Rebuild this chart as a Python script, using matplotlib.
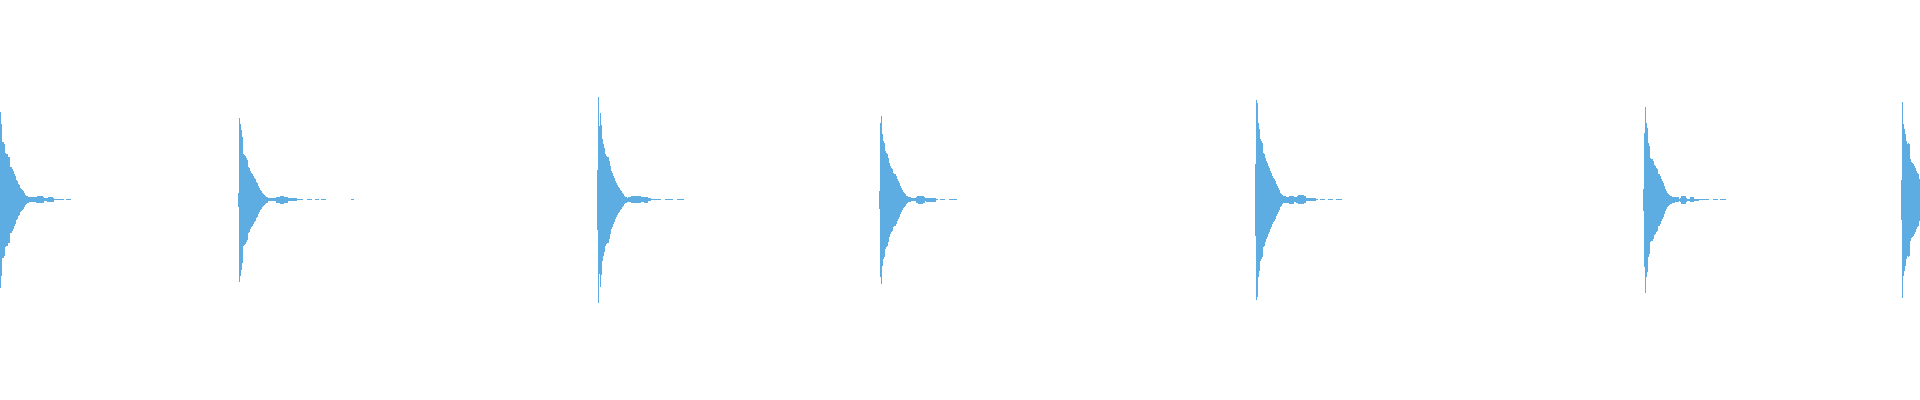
import numpy as np
import matplotlib
matplotlib.use("Agg")
import matplotlib.pyplot as plt

# Onset frame of each decaying burst (1 frame per horizontal step)
burst_onsets = [0, 238, 597, 879, 1255, 1643, 1901]

# Envelope amplitude (half peak-to-peak) per frame
env_1 = [88, 76, 58, 58, 56, 47, 46, 46, 43, 43, 33, 33, 31, 29, 26, 24, 20, 19, 16, 15,
         12, 11, 10, 9, 7, 5, 4, 3.5, 3, 2.5, 2.5, 2.5, 2.5, 2.5, 2.5, 2.5,
         3, 3.5, 3.5, 3.5, 3.5, 3.5, 3.5, 3, 1.5, 1.5, 1.5, 2, 2.5, 2.5, 2.5, 2.5, 2.5, 2,
         0.5, 0.5, 0.5, 0.5, 0.5, 0.5, 0.5, 0.5, 0.5, 0.5, 0, 0, 0.5, 0.5, 0.5, 0.5, 0.5]
env_2 = [7, 82, 76, 70, 63, 46, 45, 44, 42, 40, 33, 32, 29, 27, 26, 24, 22, 21, 18, 17,
         14, 12, 10, 9, 7, 6, 5, 4, 3, 3, 1.7, 1.7, 1.7, 1.7, 1.7, 1.7, 1.7, 1.7,
         3, 3, 3, 3, 4, 4, 4, 4, 3, 3, 3, 3, 1.5, 1.5, 1.5, 1.5, 1.5, 1.5, 1.5, 1.5, 1.5,
         0.5, 0.5, 0.5, 0.5, 0.5, 0.5, 0, 0, 0, 0, 0.5, 0.5, 0.5, 0.5, 0.5, 0, 0, 0,
         0.5, 0.5, 0.5, 0.5, 0, 0, 0.5, 0.5, 0.5, 0.5, 0.5,
         0, 0, 0, 0, 0, 0, 0, 0, 0, 0, 0, 0, 0, 0, 0, 0, 0, 0, 0, 0, 0, 0, 0, 0, 0,
         0.5, 0.5, 0.5]
env_3 = [30, 103, 74, 87, 75, 61, 56, 52, 46, 44, 43, 43, 39, 34, 29, 27, 24, 22, 19, 17,
         15, 13, 12, 10, 9, 7, 6, 4, 3, 3, 2, 2.3, 2.3, 2.3,
         3.5, 3.5, 3.5, 3.5, 3.5, 3.5, 3.5, 3.5, 3.5, 3.5, 2.5, 2.5, 2.5, 3, 3, 3, 3,
         1.7, 1.7, 1.7, 0.5, 0.5, 0.5, 0.5, 0.5, 0.5, 0.5, 0.5, 0.5, 0.5, 0, 0, 0, 0,
         0.5, 0.5, 0.5, 0.5, 0.5, 0.5, 0.5, 0.5, 0, 0, 0, 0, 0.5, 0.5, 0.5, 0.5, 0.5, 0.5, 0.5]
env_4 = [9, 77, 84, 66, 59, 57, 49, 47, 46, 42, 37, 34, 32, 31, 27, 26, 26, 24, 21, 19,
         17, 14, 12, 10, 8, 7, 6, 4, 3.3, 2.3, 2.3, 2.3, 1.7, 1.7, 1.7, 1.7, 1.7,
         3, 3.5, 4, 4, 4, 4, 4, 3.5, 3, 1.3, 2, 2, 2, 2, 2, 2, 2, 2, 2, 2,
         0.5, 0.5, 0, 0, 0.5, 0.5, 0.5, 0.5, 0.5, 0, 0, 0, 0, 0.5, 0.5, 0.5, 0.5, 0.5, 0.5, 0.5, 0.5]
env_5 = [36, 100, 97, 77, 71, 61, 59, 57, 47, 46, 42, 39, 37, 34, 32, 29, 27, 24, 22, 21,
         19, 16, 14, 12, 10, 7, 6, 4.7, 3.7, 3.7, 3.7, 3, 3, 3, 4, 4, 4, 4, 4, 2.3, 2.3, 3,
         3.5, 4.7, 4.7, 4.7, 4.7, 4.7, 4.7, 3.5, 3.5, 1.7, 1.7, 1.7,
         1.5, 1.5, 1.5, 1.5, 1.5, 1.5, 1.5, 0.5, 0.5, 0, 0, 0.5, 0.5, 0.5, 0.5, 0.5, 0, 0, 0,
         0.5, 0.5, 0.5, 0.5, 0.5, 0, 0, 0, 0.5, 0.5, 0.5, 0.5, 0.5, 0.5]
env_6 = [11, 67, 93, 77, 72, 57, 54, 42, 41, 41, 39, 35, 34, 32, 31, 26, 26, 24, 21, 19,
         17, 14, 11, 9, 7, 6, 5, 4, 4, 3, 3, 3, 2.3, 2.3, 2.3, 2.3, 1,
         2, 4, 4, 4, 4, 4, 2, 1, 1, 1, 2.3, 2.3, 2.3, 2.3, 1, 1, 1, 1, 1,
         0.5, 0.5, 0.5, 0.5, 0.5, 0.5, 0.5, 0.5, 0.5, 0.5, 0, 0, 0, 0, 0.5, 0.5, 0.5, 0.5, 0.5,
         0, 0, 0.5, 0.5, 0.5, 0.5, 0.5, 0.5]
env_7 = [20, 98, 76, 71, 66, 59, 56, 57, 56, 41, 38, 37, 36, 34, 32, 29, 27, 26, 21]

burst_envelopes = [env_1, env_2, env_3, env_4, env_5, env_6, env_7]

wave_color = "#5DADE2"

fig = plt.figure(figsize=(19.2, 4.0), dpi=100)
ax = fig.add_axes([0, 0, 1, 1])
ax.set_xlim(0, 1920)
ax.set_ylim(-200.5, 199.5)
ax.axis("off")

for onset, env in zip(burst_onsets, burst_envelopes):
    amp = np.asarray(env, dtype=float)
    x = onset + np.arange(len(amp) + 1)
    y = np.append(amp, amp[-1])
    ax.fill_between(x, -y, y, step="post", color=wave_color, linewidth=0,
                    antialiased=False)

fig.savefig("out.png", dpi=100, facecolor="white")
